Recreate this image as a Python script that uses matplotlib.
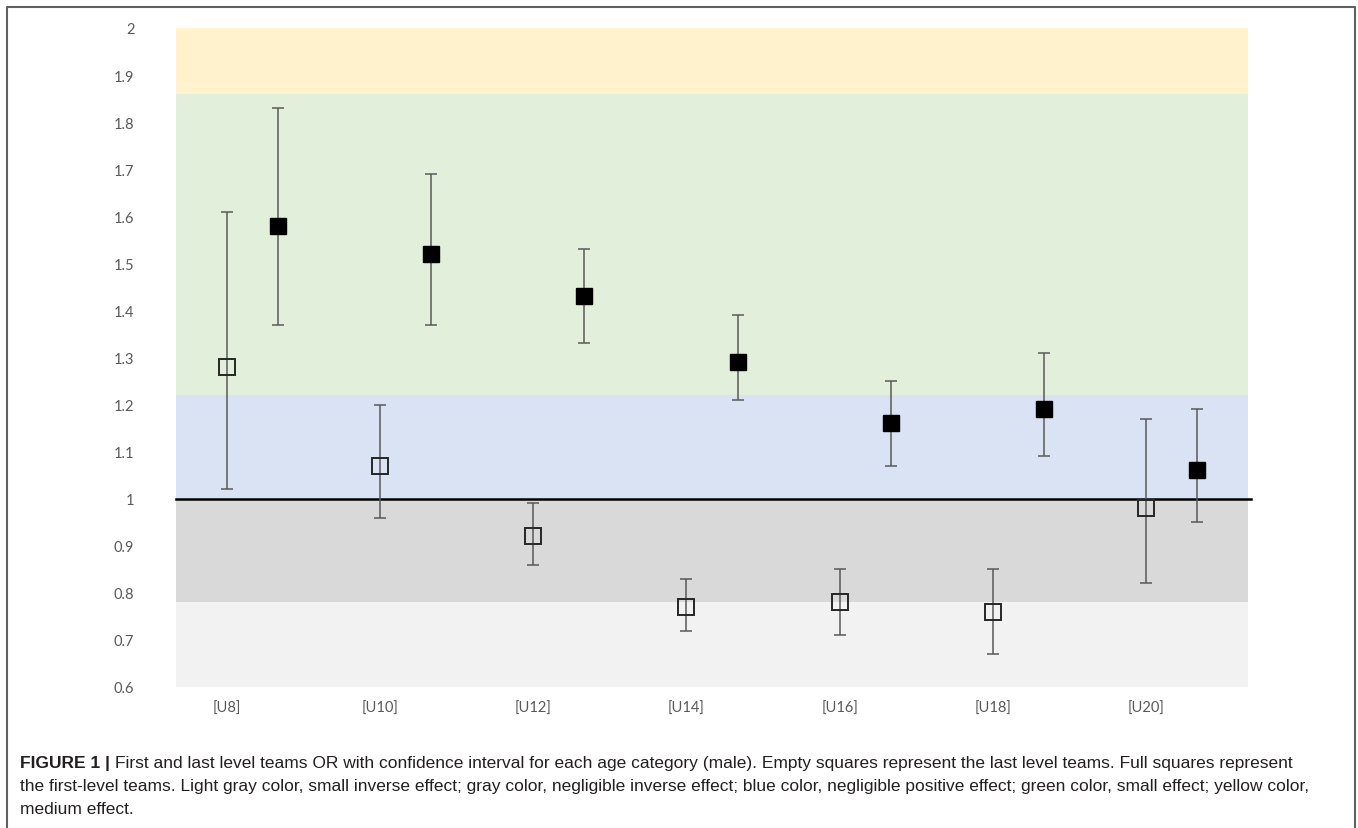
import matplotlib
matplotlib.use("Agg")
import matplotlib.pyplot as plt
from matplotlib.lines import Line2D
import numpy as np

categories = ["[U8]", "[U10]", "[U12]", "[U14]", "[U16]", "[U18]", "[U20]"]
last_or = [1.28, 1.07, 0.92, 0.77, 0.78, 0.76, 0.98]
last_lo = [1.02, 0.96, 0.86, 0.72, 0.71, 0.67, 0.82]
last_hi = [1.61, 1.20, 0.99, 0.83, 0.85, 0.85, 1.17]
first_or = [1.58, 1.52, 1.43, 1.29, 1.16, 1.19, 1.06]
first_lo = [1.37, 1.37, 1.33, 1.21, 1.07, 1.09, 0.95]
first_hi = [1.83, 1.69, 1.53, 1.39, 1.25, 1.31, 1.19]
bands = [(0.6, 0.78, "#F2F2F2"), (0.78, 1.0, "#D9D9D9"), (1.0, 1.22, "#DAE3F3"),
         (1.22, 1.86, "#E2EFDA"), (1.86, 2.0, "#FFF2CC")]
yticks = [0.6, 0.7, 0.8, 0.9, 1, 1.1, 1.2, 1.3, 1.4, 1.5, 1.6, 1.7, 1.8, 1.9, 2]

W, H = 1358, 829
fig = plt.figure(figsize=(W / 100, H / 100), dpi=100)
ax = fig.add_axes([176 / W, 1 - 688 / H, (1248 - 176) / W, (688 - 29) / H])

n = len(categories)
x = np.arange(n)
xl = x - 0.167
xf = x + 0.167

for lo, hi, c in bands:
    ax.axhspan(lo, hi, color=c, lw=0, zorder=0)
ax.plot([-0.5, n - 0.5 + 0.02], [1, 1], color="black", lw=1.8, zorder=2, clip_on=False)

ecol = "#595959"
ll = np.array(last_or)
ax.errorbar(xl, ll, yerr=[ll - np.array(last_lo), np.array(last_hi) - ll], fmt="none",
            ecolor=ecol, elinewidth=1.1, capsize=4.5, capthick=1.1, zorder=3)
ax.plot(xl, ll, ls="none", marker="s", ms=11, mfc="none", mec="#262626", mew=1.4, zorder=4)
ff = np.array(first_or)
ax.errorbar(xf, ff, yerr=[ff - np.array(first_lo), np.array(first_hi) - ff], fmt="none",
            ecolor=ecol, elinewidth=1.1, capsize=4.5, capthick=1.1, zorder=3)
ax.plot(xf, ff, ls="none", marker="s", ms=11.5, mfc="black", mec="black", mew=1, zorder=4)

ax.set_xlim(-0.5, n - 0.5)
ax.set_ylim(0.6, 2.0)
ax.set_yticks(yticks)
ax.set_yticklabels([f"{v:g}" for v in yticks])
ax.set_xticks(xl)
ax.set_xticklabels(categories)
for s in ax.spines.values():
    s.set_visible(False)
ax.tick_params(axis="both", length=0, colors="#595959", labelsize=10.5)
ax.tick_params(axis="y", pad=30)
ax.tick_params(axis="x", pad=10)
for lab in ax.get_xticklabels() + ax.get_yticklabels():
    lab.set_fontfamily(["Lato", "DejaVu Sans"])

# outer frame (open at the bottom)
def px(xp, yp):
    return xp / W, 1 - yp / H
fx = [7, 7, 1355, 1355]
fy = [829, 8, 8, 829]
fig.lines.append(Line2D([v / W for v in fx], [1 - v / H for v in fy],
                        transform=fig.transFigure, color="#606060", lw=1.5))

cap_fam = ["Liberation Sans Narrow", "Liberation Sans", "DejaVu Sans"]
fs = 12.5
cc = "#231F20"
y0 = 1 - 764 / H
t = fig.text(20 / W, y0, "FIGURE 1 |", fontsize=fs, fontweight="bold", family=cap_fam,
             va="center", color=cc)
fig.canvas.draw()
bb = t.get_window_extent()
fig.text((bb.x1 + 5) / W, y0,
         "First and last level teams OR with confidence interval for each age category (male). Empty squares represent the last level teams. Full squares represent",
         fontsize=fs, family=cap_fam, va="center", color=cc)
fig.text(20 / W, 1 - 787 / H,
         "the first-level teams. Light gray color, small inverse effect; gray color, negligible inverse effect; blue color, negligible positive effect; green color, small effect; yellow color,",
         fontsize=fs, family=cap_fam, va="center", color=cc)
fig.text(20 / W, 1 - 810 / H, "medium effect.", fontsize=fs, family=cap_fam, va="center",
         color=cc)

fig.savefig("out.png", dpi=100)
